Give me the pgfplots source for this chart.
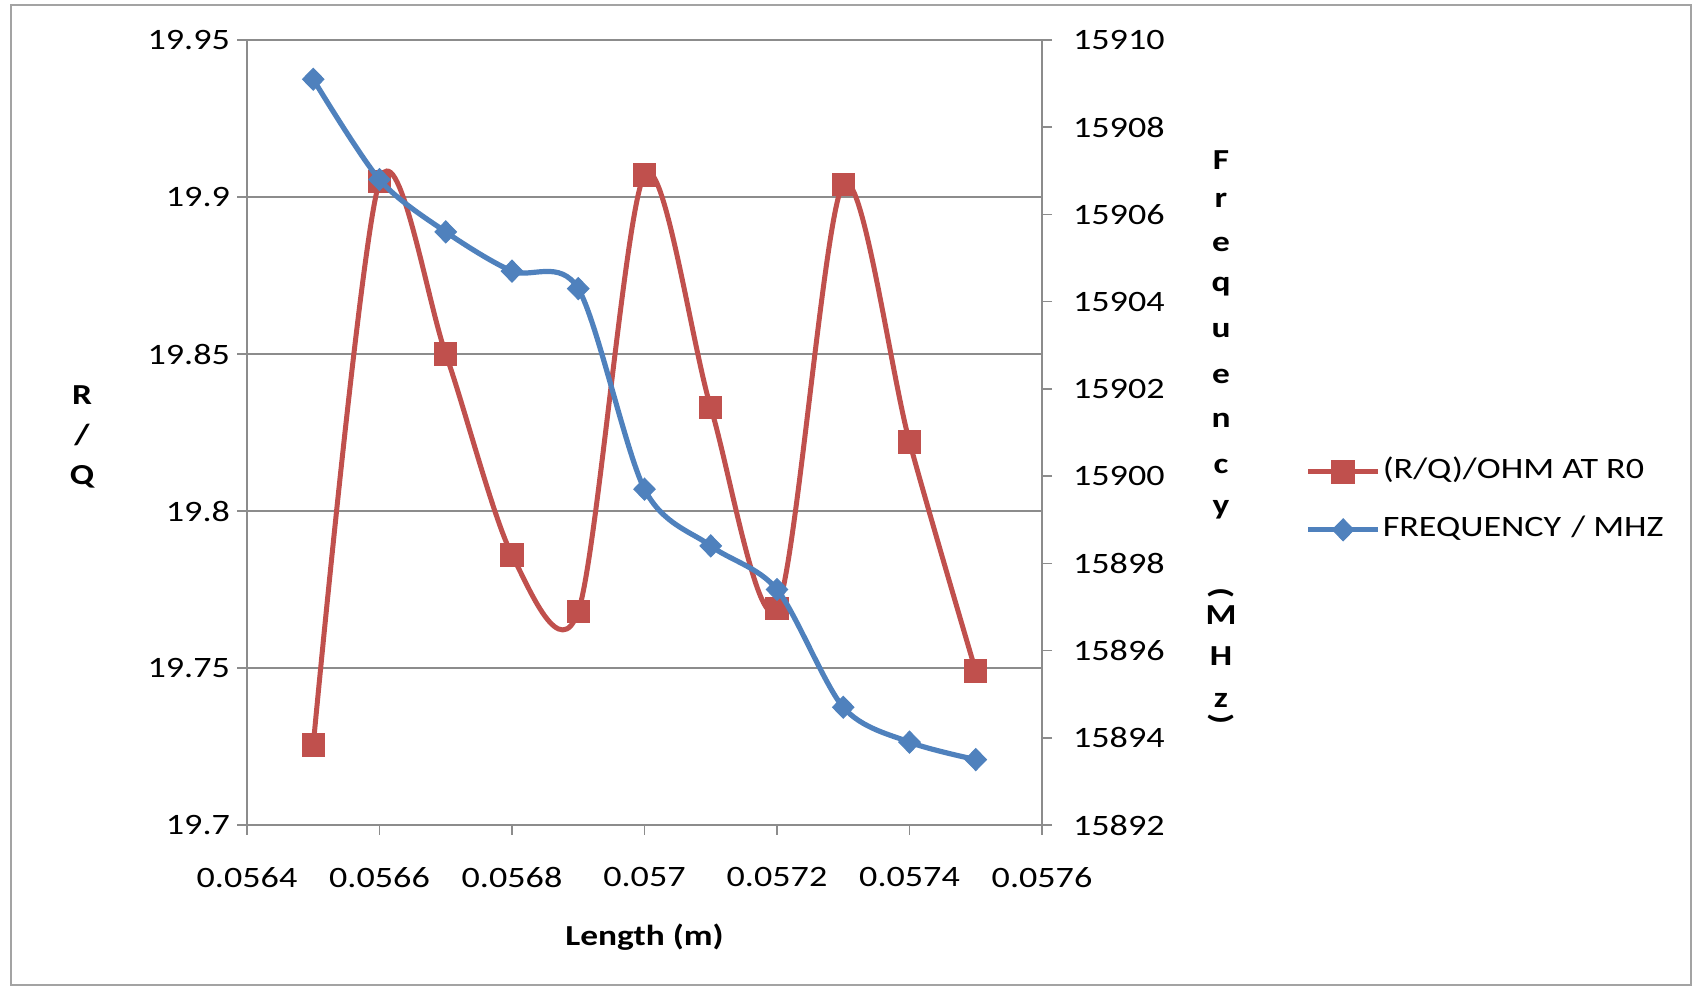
\documentclass[border=0pt]{standalone}
\usepackage{fontspec}
\setmainfont{Carlito}[FakeStretch=1.22]
\usepackage{pgfplots}
\pgfplotsset{compat=1.18}
\definecolor{exred}{HTML}{C0504D}
\definecolor{exblue}{HTML}{4F81BD}
\definecolor{exgray}{HTML}{8C8C8C}
\newcommand{\tfont}{\fontsize{14.8}{17}\selectfont}
\newcommand{\lfont}{\bfseries\fontsize{14.5}{17}\selectfont}
\pgfplotsset{
  common/.style={
    at={(123.5pt,-412.5pt)}, anchor=south west,
    scale only axis, width=397.5pt, height=392.5pt,
    xmin=0.0564, xmax=0.0576,
    scaled ticks=false,
    tick align=outside, major tick length=5pt,
    tick style={exgray, line width=0.8pt},
    axis line style={exgray, line width=0.8pt},
    tick label style={font=\tfont, text=black},
    /pgf/number format/assume math mode=true,
  },
  mylegimg/.style={legend image code/.code={
    \draw[##1, mark repeat=2, mark phase=2] plot coordinates {(0pt,0pt) (17.5pt,0pt) (35pt,0pt)};}}
}
\begin{document}
\begin{tikzpicture}[x=1pt,y=1pt]
\path (0,0) rectangle (849,-495);
\draw[exgray!80, line width=0.9pt] (5.5,-2.5) rectangle (845.5,-492.5);
\begin{axis}[common,
  ymin=19.7, ymax=19.95,
  xtick={0.0564,0.0566,0.0568,0.057,0.0572,0.0574,0.0576},
  xticklabels={0.0564,0.0566,0.0568,0.057,0.0572,0.0574,0.0576},
  ytick={19.7,19.75,19.8,19.85,19.9,19.95},
  yticklabels={19.7,19.75,19.8,19.85,19.9,19.95},
  xticklabel style={yshift=-12.5pt},
  xtick pos=lower, ytick pos=left,
  ymajorgrids, grid style={exgray, line width=0.8pt},
  xlabel={Length (m)},
  xlabel style={font=\lfont, at={(axis description cs:0.5,-0.1427)}, anchor=center},
  ylabel={R\\/\\Q},
  ylabel style={rotate=-90, font=\bfseries\fontsize{14.5}{20}\selectfont, align=center,
    at={(axis description cs:-0.2075,0.495)}, anchor=center},
]
\addplot[exred, line width=2.5pt, smooth, mark=square*, mark size=5.6pt,
  mark options={solid, fill=exred, draw=exred, line width=0.5pt}] table {
x y
0.0565 19.7255
0.0566 19.905
0.0567 19.850
0.0568 19.786
0.0569 19.768
0.0570 19.907
0.0571 19.833
0.0572 19.769
0.0573 19.904
0.0574 19.822
0.0575 19.749
};
\end{axis}
\begin{axis}[common,
  axis x line=none, axis y line*=right,
  ymin=15892, ymax=15910,
  ytick={15892,15894,15896,15898,15900,15902,15904,15906,15908,15910},
  yticklabels={15892,15894,15896,15898,15900,15902,15904,15906,15908,15910},
  yticklabel style={xshift=7pt},
  mylegimg,
  legend style={draw=none, fill=none, at={(axis description cs:1.331,0.413)}, anchor=west,
    inner sep=0pt, row sep=14pt, font=\tfont,
    nodes={inner sep=1pt, text height=10pt, text depth=3pt}},
  legend cell align=left,
]
\addlegendimage{exred, line width=2.5pt, mark=square*, mark size=5.6pt,
  mark options={solid, fill=exred, draw=exred, line width=0.5pt}}
\addlegendentry{(R/Q)/OHM AT R0}
\addplot[exblue, line width=2.6pt, smooth, mark=diamond*, mark size=5.5pt,
  mark options={solid, fill=exblue, draw=exblue, line width=0.5pt, xscale=1.3}] table {
x y
0.0565 15909.1
0.0566 15906.8
0.0567 15905.6
0.0568 15904.7
0.0569 15904.3
0.0570 15899.7
0.0571 15898.4
0.0572 15897.4
0.0573 15894.7
0.0574 15893.9
0.0575 15893.5
};
\addlegendentry{FREQUENCY\hspace{5pt}/ MHZ}
\end{axis}
\begin{scope}[every node/.style={font=\lfont, inner sep=0pt, anchor=center}]
\node at (610.5,-80) {F};
\node at (610.5,-100) {r};
\node at (610.5,-122) {e};
\node at (610.5,-143.5) {q};
\node at (610.5,-165.5) {u};
\node at (610.5,-188) {e};
\node at (610.5,-210) {n};
\node at (610.5,-233) {c};
\node at (610.5,-255) {y};
\node[rotate=-90] at (610.5,-296.5) {(};
\node at (610.5,-307.5) {M};
\node at (610.5,-328) {H};
\node at (610.5,-350) {z};
\node[rotate=-90] at (610.5,-359.5) {)};
\end{scope}
\end{tikzpicture}
\end{document}
